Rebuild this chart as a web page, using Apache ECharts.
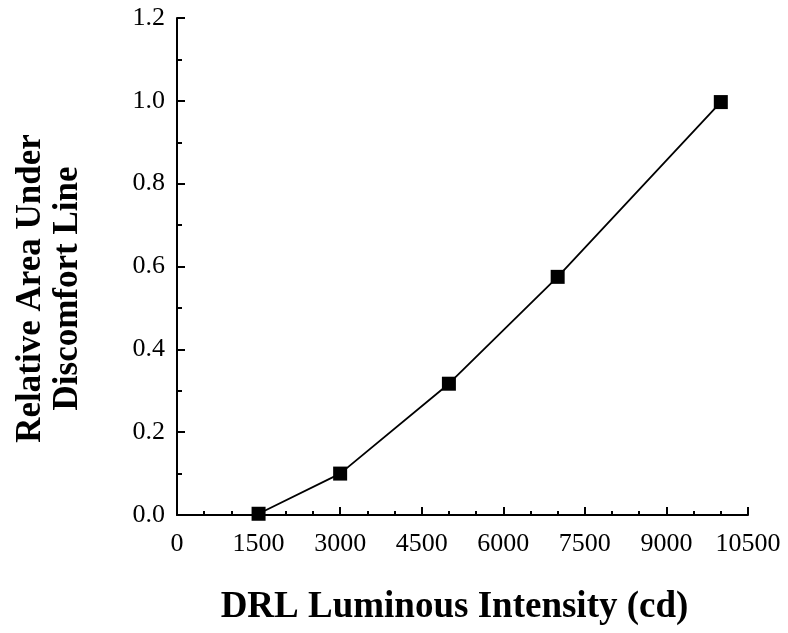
<!DOCTYPE html>
<html><head><meta charset="utf-8">
<script src="https://cdn.jsdelivr.net/npm/echarts@6/dist/echarts.min.js"></script>
<style>html,body{margin:0;padding:0;background:#fff}#c{width:788px;height:633px}</style>
</head><body><div id="c"></div>
<script>
const xValues = [1500, 3000, 5000, 7000, 10000];
const yValues = [0.003, 0.10, 0.317, 0.575, 0.997];
const xTitle = 'DRL Luminous Intensity (cd)';
const yTitle = 'Relative Area Under\nDiscomfort Line';

const chart = echarts.init(document.getElementById('c'));
const font = 'Liberation Serif';
chart.setOption({
  animation: false,
  grid: {left: 177, top: 18, right: 40, bottom: 118},
  xAxis: {
    type: 'value', min: 0, max: 10500, interval: 1500,
    name: xTitle, nameLocation: 'middle', nameGap: 74,
    nameTextStyle: {fontFamily: font, fontWeight: 'bold', fontSize: 37, color: '#000', padding: [0, 16, 0, 0]},
    axisLine: {lineStyle: {color: '#000', width: 2}},
    axisTick: {inside: true, length: 8, lineStyle: {color: '#000', width: 2}},
    minorTick: {show: true, splitNumber: 3, length: 4, lineStyle: {color: '#000', width: 2}},
    axisLabel: {fontFamily: font, fontSize: 26, color: '#000', margin: 16,
      formatter: v => String(v)},
    splitLine: {show: false}
  },
  yAxis: {
    type: 'value', min: 0, max: 1.2, interval: 0.2,
    name: yTitle, nameLocation: 'middle', nameGap: 91, nameRotate: 90,
    nameTextStyle: {fontFamily: font, fontWeight: 'bold', fontSize: 35, color: '#000', lineHeight: 37, align: 'center', padding: [0, 44, 0, 0]},
    axisLine: {lineStyle: {color: '#000', width: 2}},
    axisTick: {inside: true, length: 8, lineStyle: {color: '#000', width: 2}},
    minorTick: {show: true, splitNumber: 2, length: 5, lineStyle: {color: '#000', width: 2}},
    axisLabel: {fontFamily: font, fontSize: 26, color: '#000', margin: 12,
      formatter: v => v.toFixed(1)},
    splitLine: {show: false}
  },
  series: [{
    type: 'line',
    data: xValues.map((x, i) => [x, yValues[i]]),
    symbol: 'rect', symbolSize: 14,
    itemStyle: {color: '#000'},
    lineStyle: {color: '#000', width: 1.8}
  }]
});
</script></body></html>
